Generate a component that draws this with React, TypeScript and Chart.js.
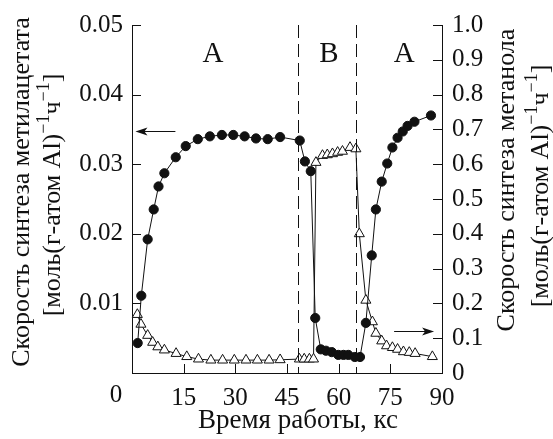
import React, { useEffect, useRef } from 'react';
import { Chart, registerables } from 'chart.js';

Chart.register(...registerables);

// ---- data ----
const timeMethylAcetate = [1.65, 2.7, 4.55, 6.3, 7.7, 9.4, 12.7, 15.6, 19.1, 22.6, 26.1, 29.4, 32.7, 36.0, 39.4, 43.0, 48.7, 50.2, 51.9, 53.2, 54.8, 56.3, 58.0, 59.9, 61.4, 62.8, 64.7, 66.2, 67.9, 69.6, 70.8, 72.5, 74.1, 75.6, 77.1, 78.6, 80.0, 82.0, 86.8];
const rateMethylAcetate = [0.0043, 0.0111, 0.0192, 0.0235, 0.0268, 0.0287, 0.0310, 0.0326, 0.0336, 0.0340, 0.0342, 0.0342, 0.0340, 0.0337, 0.0336, 0.0339, 0.0334, 0.0304, 0.0290, 0.0079, 0.0034, 0.0032, 0.0030, 0.0026, 0.0026, 0.0026, 0.0023, 0.0023, 0.0072, 0.0169, 0.0235, 0.0275, 0.0301, 0.0324, 0.0338, 0.0347, 0.0355, 0.0361, 0.0370];

const timeMethanol = [1.55, 2.6, 4.55, 6.0, 7.5, 9.4, 12.8, 15.9, 19.3, 22.9, 26.3, 29.7, 33.1, 36.4, 39.8, 43.0, 48.6, 50.0, 51.5, 52.7, 53.4, 55.3, 56.7, 58.2, 59.7, 61.1, 63.3, 65.0, 66.0, 67.9, 69.8, 70.8, 72.5, 73.9, 75.6, 77.1, 78.8, 80.5, 82.2, 87.2];
const rateMethanol = [0.168, 0.140, 0.108, 0.088, 0.075, 0.066, 0.056, 0.047, 0.040, 0.037, 0.037, 0.037, 0.037, 0.037, 0.037, 0.038, 0.040, 0.040, 0.040, 0.040, 0.605, 0.625, 0.627, 0.630, 0.634, 0.637, 0.648, 0.644, 0.400, 0.209, 0.147, 0.114, 0.092, 0.078, 0.073, 0.068, 0.061, 0.059, 0.056, 0.047];

const xRange = [0, 90];
const xStep = 15;
const leftRange = [0, 0.05];
const leftStep = 0.01;
const rightRange = [0, 1.0];
const rightStep = 0.1;

const switchTimes = [48.3, 64.9];
const regionLabels = ['A', 'B', 'A'];
const regionLabelTimes = [23.5, 57.2, 79.0];
const regionLabelLevel = 0.0458; // left axis units

const leftArrow = { from: 12.6, to: 1.0, level: 0.0348 };
const rightArrow = { from: 76.1, to: 87.7, level: 0.12 };

const xTitle = 'Время работы, кс';
const leftTitle = 'Скорость синтеза метилацетата';
const rightTitle = 'Скорость синтеза метанола';
const unitParts = [
  { t: '[моль(г-атом Al)', sup: false },
  { t: '−1', sup: true },
  { t: 'ч', sup: false },
  { t: '−1', sup: true },
  { t: ']', sup: false },
];

const FONT = '"Liberation Serif", "Times New Roman", serif';

function drawRotated(ctx: CanvasRenderingContext2D, parts: { t: string; sup: boolean }[], cx: number, cy: number, size: number) {
  const main = `${size}px ${FONT}`;
  const small = `${Math.round(size * 0.68)}px ${FONT}`;
  ctx.save();
  ctx.translate(cx, cy);
  ctx.rotate(-Math.PI / 2);
  ctx.textBaseline = 'middle';
  ctx.textAlign = 'left';
  ctx.fillStyle = '#111';
  let total = 0;
  for (const p of parts) {
    ctx.font = p.sup ? small : main;
    total += ctx.measureText(p.t).width;
  }
  let x = -total / 2;
  for (const p of parts) {
    ctx.font = p.sup ? small : main;
    ctx.fillText(p.t, x, p.sup ? -size * 0.34 : 0);
    x += ctx.measureText(p.t).width;
  }
  ctx.restore();
}

function arrow(ctx: CanvasRenderingContext2D, x1: number, x2: number, y: number) {
  const dir = Math.sign(x2 - x1);
  const headLen = 12;
  ctx.beginPath();
  ctx.moveTo(x1, y);
  ctx.lineTo(x2 - dir * headLen * 0.6, y);
  ctx.stroke();
  ctx.beginPath();
  ctx.moveTo(x2, y);
  ctx.lineTo(x2 - dir * headLen, y - 4);
  ctx.lineTo(x2 - dir * headLen * 0.75, y);
  ctx.lineTo(x2 - dir * headLen, y + 4);
  ctx.closePath();
  ctx.fill();
}

const decorPlugin = {
  id: 'decor',
  afterDraw(chart: any) {
    const ctx: CanvasRenderingContext2D = chart.ctx;
    const { x, y, y1 } = chart.scales;
    const area = chart.chartArea;
    const tickLen = 9;
    ctx.save();
    ctx.strokeStyle = '#111';
    ctx.fillStyle = '#111';
    ctx.lineWidth = 1;
    // inward ticks
    ctx.beginPath();
    x.ticks.forEach((t: any) => {
      if (t.value === xRange[0]) return;
      const px = Math.round(x.getPixelForValue(t.value)) + 0.5;
      ctx.moveTo(px, area.bottom);
      ctx.lineTo(px, area.bottom - tickLen);
    });
    y.ticks.forEach((t: any) => {
      if (t.value === leftRange[0]) return;
      const py = Math.round(y.getPixelForValue(t.value)) + 0.5;
      ctx.moveTo(area.left, py);
      ctx.lineTo(area.left + tickLen, py);
    });
    y1.ticks.forEach((t: any) => {
      if (t.value === rightRange[0]) return;
      const py = Math.round(y1.getPixelForValue(t.value)) + 0.5;
      ctx.moveTo(area.right, py);
      ctx.lineTo(area.right - tickLen, py);
    });
    ctx.stroke();

    // dashed switch lines
    ctx.setLineDash([13, 6]);
    ctx.beginPath();
    switchTimes.forEach((s) => {
      const px = Math.round(x.getPixelForValue(s)) + 0.5;
      ctx.moveTo(px, area.top);
      ctx.lineTo(px, area.bottom);
    });
    ctx.stroke();
    ctx.setLineDash([]);

    // region labels
    ctx.font = `29px ${FONT}`;
    ctx.textAlign = 'center';
    ctx.textBaseline = 'middle';
    regionLabels.forEach((l, i) => {
      ctx.fillText(l, x.getPixelForValue(regionLabelTimes[i]), y.getPixelForValue(regionLabelLevel));
    });

    // arrows
    arrow(ctx, x.getPixelForValue(leftArrow.from), x.getPixelForValue(leftArrow.to), Math.round(y.getPixelForValue(leftArrow.level)) + 0.5);
    arrow(ctx, x.getPixelForValue(rightArrow.from), x.getPixelForValue(rightArrow.to), Math.round(y1.getPixelForValue(rightArrow.level)) + 0.5);

    // shared origin label
    ctx.font = `25px ${FONT}`;
    ctx.textAlign = 'center';
    ctx.textBaseline = 'middle';
    ctx.fillText('0', x.getPixelForValue(0) - 16, area.bottom + 22);

    // axis titles
    ctx.font = `27px ${FONT}`;
    ctx.textAlign = 'center';
    ctx.textBaseline = 'middle';
    ctx.fillText(xTitle, 298, area.bottom + 48);
    drawRotated(ctx, [{ t: leftTitle, sup: false }], 22, 192, 26);
    drawRotated(ctx, unitParts, 53, 195, 26);
    drawRotated(ctx, [{ t: rightTitle, sup: false }], 507, 180, 26);
    drawRotated(ctx, unitParts, 541, 186, 26);
    ctx.restore();
  },
};

export default function App() {
  const ref = useRef<HTMLCanvasElement | null>(null);
  useEffect(() => {
    if (!ref.current) return;
    const tickFont = { family: FONT, size: 25 };
    const chart = new Chart(ref.current, {
      type: 'line',
      data: {
        datasets: [
          {
            label: 'Метилацетат',
            data: timeMethylAcetate.map((t, i) => ({ x: t, y: rateMethylAcetate[i] })),
            yAxisID: 'y',
            borderColor: '#111',
            backgroundColor: '#111',
            borderWidth: 1,
            pointStyle: 'circle',
            pointRadius: 4.6,
            pointBorderWidth: 1,
            pointBackgroundColor: '#111',
            pointBorderColor: '#111',
            tension: 0,
            clip: false,
          },
          {
            label: 'Метанол',
            data: timeMethanol.map((t, i) => ({ x: t, y: rateMethanol[i] })),
            yAxisID: 'y1',
            borderColor: '#111',
            backgroundColor: '#fff',
            borderWidth: 1,
            pointStyle: 'triangle',
            pointRadius: 5.8,
            pointBorderWidth: 1,
            pointBackgroundColor: '#fff',
            pointBorderColor: '#111',
            tension: 0,
            clip: false,
          },
        ],
      },
      options: {
        responsive: false,
        animation: false,
        events: [],
        layout: { padding: { top: 24, left: 0, right: 0, bottom: 0 } },
        plugins: { legend: { display: false }, tooltip: { enabled: false }, title: { display: false } },
        scales: {
          x: {
            type: 'linear',
            min: xRange[0],
            max: xRange[1],
            ticks: {
              stepSize: xStep,
              color: '#111',
              font: tickFont,
              padding: 10,
              maxRotation: 0,
              callback: (v: any) => (v === 0 ? '' : String(v)),
            },
            grid: { drawOnChartArea: false, drawTicks: false },
            border: { display: true, color: '#111', width: 1 },
            afterFit: (s: any) => { s.height = 66; },
          },
          y: {
            type: 'linear',
            position: 'left',
            min: leftRange[0],
            max: leftRange[1],
            ticks: {
              stepSize: leftStep,
              color: '#111',
              font: tickFont,
              padding: 9,
              callback: (v: any) => (Math.abs(v) < 1e-9 ? '' : Number(v).toFixed(2)),
            },
            grid: { drawOnChartArea: false, drawTicks: false },
            border: { display: true, color: '#111', width: 1 },
            afterFit: (s: any) => { s.width = 132; },
          },
          y1: {
            type: 'linear',
            position: 'right',
            min: rightRange[0],
            max: rightRange[1],
            ticks: {
              stepSize: rightStep,
              color: '#111',
              font: tickFont,
              padding: 10,
              callback: (v: any) => (Math.abs(v) < 1e-9 ? '0' : Number(v).toFixed(1)),
            },
            grid: { drawOnChartArea: false, drawTicks: false },
            border: { display: true, color: '#111', width: 1 },
            afterFit: (s: any) => { s.width = 111; },
          },
        },
      },
      plugins: [decorPlugin],
    });
    return () => chart.destroy();
  }, []);
  return (
    <div style={{ position: 'absolute', left: 0, top: 0, width: 553, height: 439, background: '#fff' }}>
      <canvas ref={ref} width={553} height={439} />
    </div>
  );
}
